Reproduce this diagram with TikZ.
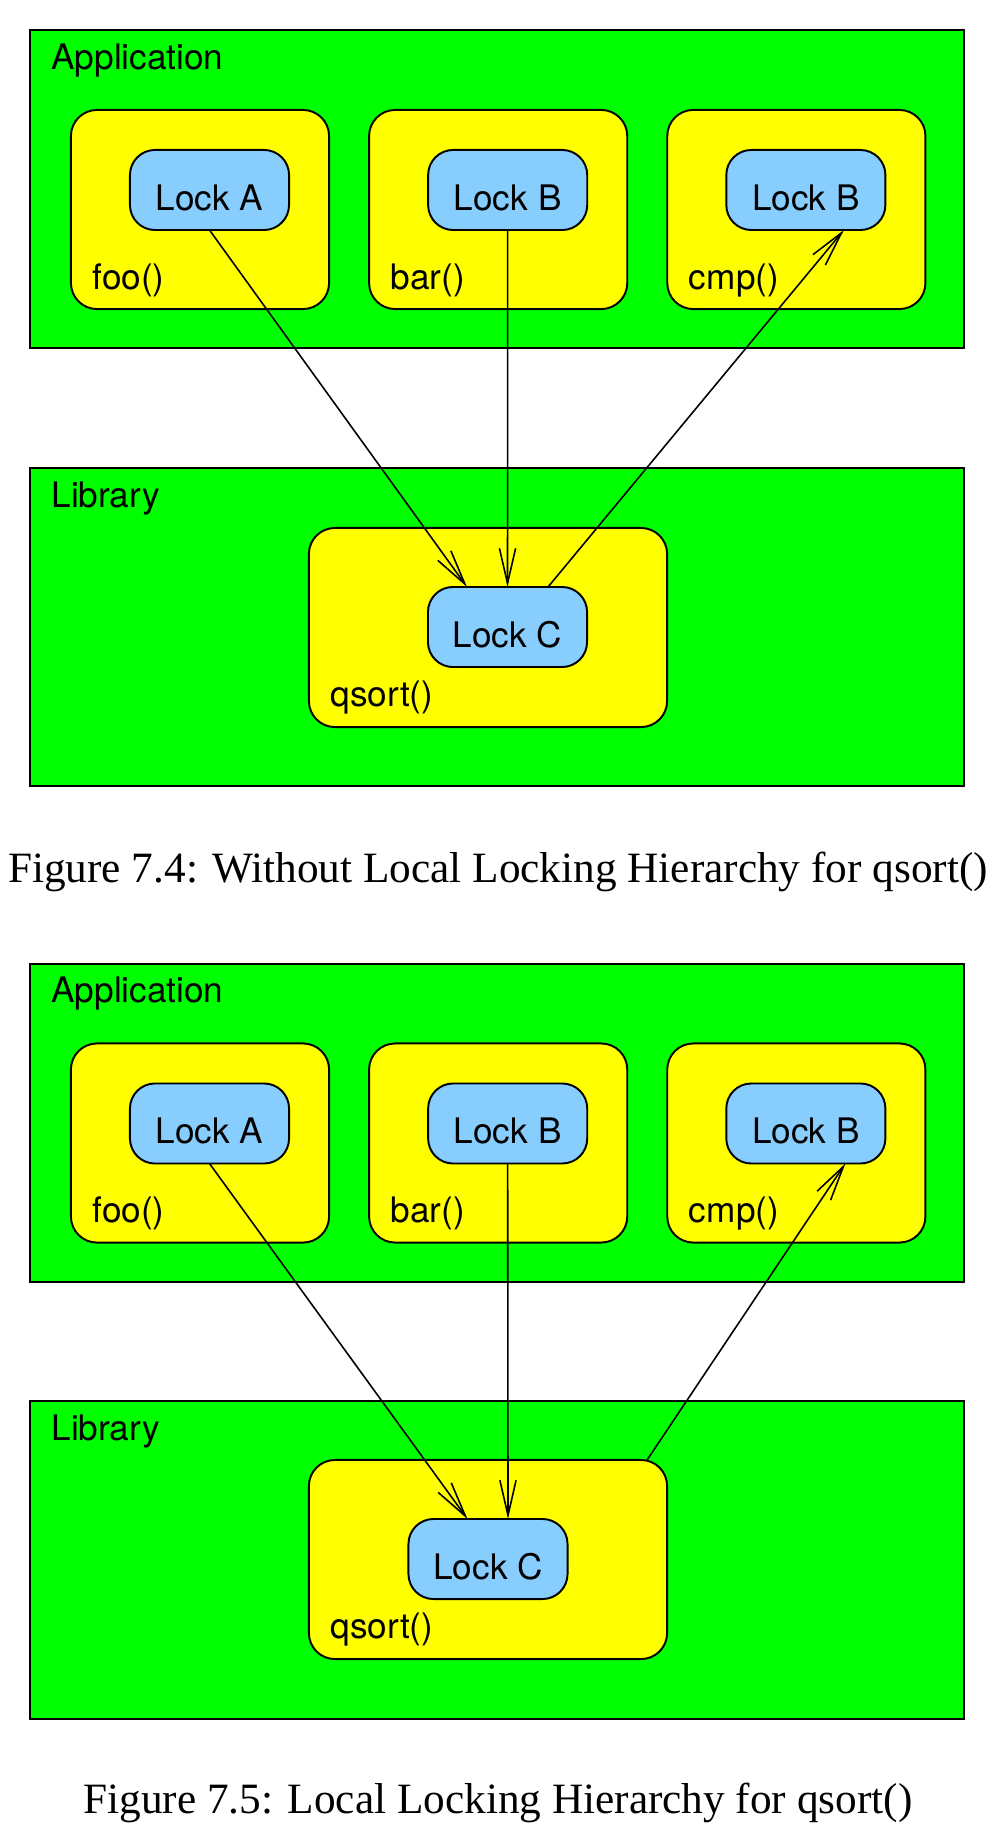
\documentclass[tikz,border=0pt]{standalone}
\usepackage{fontspec}
\setmainfont{Liberation Serif}
\setsansfont{TeX Gyre Heros}
\usepackage{tikz}
\usetikzlibrary{arrows.meta, positioning}
\usepackage{xcolor}
\definecolor{xgreen}{HTML}{00FF00}
\definecolor{xyellow}{HTML}{FFFF00}
\definecolor{ltblue}{HTML}{87CEFF}

\begin{document}
\begin{tikzpicture}[
    x=0.01cm, y=-0.01cm,
    node distance=0.4cm,
    layer/.style={rectangle, draw, line width=0.55pt, fill=xgreen, minimum width=9.335cm, minimum height=3.175cm},
    func/.style={rectangle, draw, line width=0.55pt, outer sep=0pt, rounded corners=0.26cm, fill=xyellow, minimum width=2.58cm, minimum height=1.99cm},
    lockbox/.style={rectangle, draw, line width=0.55pt, outer sep=0pt, rounded corners=0.25cm, fill=ltblue, minimum width=1.59cm, minimum height=0.8cm, text height=0.4cm, text depth=0pt, inner sep=0pt, font=\sffamily\fontsize{10}{12}\selectfont},
    tag/.style={anchor=base west, inner sep=0pt, font=\sffamily\fontsize{10}{12}\selectfont},
    caption/.style={anchor=base, inner sep=0pt, font=\rmfamily\fontsize{12.3}{14}\selectfont},
    arrow/.style={-{Straight Barb[length=10pt, width=4.6pt]}, line width=0.45pt}
]
\useasboundingbox (0,0) rectangle (997,1836);

% Figure 7.4
\node[layer] (app1) at (497.25,189.25) {};
\node[tag] (appname1) at ([shift={(21.5,40)}]app1.north west) {Application};
\node[func] (foo1) at (200,209.5) {};
\node[func, right=of foo1] (bar1) {};
\node[func, right=of bar1] (cmp1) {};
\node[lockbox, below=0.4cm of foo1.north, xshift=0.095cm] (lockA1) {Lock A};
\node[lockbox, below=0.4cm of bar1.north, xshift=0.095cm] (lockB1) {Lock B};
\node[lockbox, below=0.4cm of cmp1.north, xshift=0.095cm] (lockBc1) {Lock B};
\node[tag] (fooname1) at ([shift={(21,-20)}]foo1.south west) {foo()};
\node[tag] (barname1) at ([shift={(21,-20)}]bar1.south west) {bar()};
\node[tag] (cmpname1) at ([shift={(21,-20)}]cmp1.south west) {cmp()};

\node[layer] (lib1) at (497.25,627) {};
\node[tag] (libname1) at ([shift={(21.5,40)}]lib1.north west) {Library};
\node[func, minimum width=3.58cm] (qsort1) at (488,627.5) {};
\node[lockbox, below=0.59cm of qsort1.north, xshift=0.195cm] (lockC1) {Lock C};
\node[tag] (qsortname1) at ([shift={(21,-21)}]qsort1.south west) {qsort()};

\draw[arrow] (lockA1.south) -- ([xshift=-0.405cm]lockC1.north);
\draw[arrow] (lockB1.south) -- (lockC1.north);
\draw[arrow] ([xshift=0.405cm]lockC1.north) -- ([xshift=0.38cm]lockBc1.south);

\node[caption] (cap1) at (498,882) {Figure 7.4: Without Local Locking Hierarchy for qsort()};

% Figure 7.5
\node[layer] (app2) at (497.25,1122.75) {};
\node[tag] (appname2) at ([shift={(21.5,40)}]app2.north west) {Application};
\node[func] (foo2) at (200,1143) {};
\node[func, right=of foo2] (bar2) {};
\node[func, right=of bar2] (cmp2) {};
\node[lockbox, below=0.4cm of foo2.north, xshift=0.095cm] (lockA2) {Lock A};
\node[lockbox, below=0.4cm of bar2.north, xshift=0.095cm] (lockB2) {Lock B};
\node[lockbox, below=0.4cm of cmp2.north, xshift=0.095cm] (lockBc2) {Lock B};
\node[tag] (fooname2) at ([shift={(21,-20)}]foo2.south west) {foo()};
\node[tag] (barname2) at ([shift={(21,-20)}]bar2.south west) {bar()};
\node[tag] (cmpname2) at ([shift={(21,-20)}]cmp2.south west) {cmp()};

\node[layer] (lib2) at (497.25,1560) {};
\node[tag] (libname2) at ([shift={(21.5,40)}]lib2.north west) {Library};
\node[func, minimum width=3.58cm] (qsort2) at (488,1559.5) {};
\node[lockbox, below=0.59cm of qsort2.north] (lockC2) {Lock C};
\node[tag] (qsortname2) at ([shift={(21,-21)}]qsort2.south west) {qsort()};

\draw[arrow] (lockA2.south) -- ([xshift=-0.205cm]lockC2.north);
\draw[arrow] (lockB2.south) -- ([xshift=0.2cm]lockC2.north);
\draw[arrow] ([xshift=-0.2cm]qsort2.north east) -- ([xshift=0.395cm]lockBc2.south);

\node[caption] (cap2) at (498,1813) {Figure 7.5: Local Locking Hierarchy for qsort()};
\end{tikzpicture}
\end{document}
